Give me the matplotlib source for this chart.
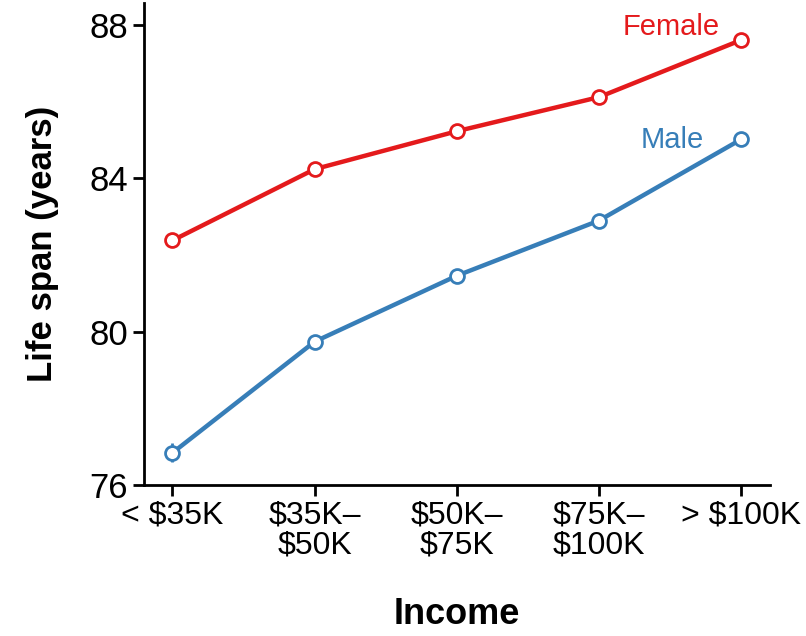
import numpy as np
import matplotlib.pyplot as plt

plt.rcParams['font.family'] = ['Liberation Sans', 'DejaVu Sans']

# data
income = ['< $35K', '$35K–\n$50K', '$50K–\n$75K', '$75K–\n$100K', '> $100K']
female = [82.38, 84.24, 85.23, 86.12, 87.61]
male = [76.84, 79.74, 81.46, 82.90, 85.02]
female_err = [0.08, 0.08, 0.08, 0.08, 0.1]
male_err = [0.25, 0.1, 0.08, 0.08, 0.1]

red = '#E41A1C'
blue = '#377EB8'

fig = plt.figure(figsize=(8.06, 6.36), dpi=100)
ax = fig.add_axes([0.1787, 0.2374, 0.7763, 0.7576])

x = np.arange(len(income))
for y, err, col in [(female, female_err, red), (male, male_err, blue)]:
    ax.errorbar(x, y, yerr=err, color=col, lw=3.2, elinewidth=2, capsize=0,
                marker='o', markersize=10, markerfacecolor='white',
                markeredgecolor=col, markeredgewidth=2, zorder=3)

ax.text(3.85, 87.95, 'Female', color=red, fontsize=21, ha='right', va='center')
ax.text(3.74, 85.0, 'Male', color=blue, fontsize=21, ha='right', va='center')

ax.set_xlim(-0.2, 4.2)
ax.set_ylim(76, 88.57)
ax.set_yticks([76, 80, 84, 88])
ax.set_xticks(x)
ax.set_xticklabels(income, fontsize=23, linespacing=1.0)
ax.tick_params(axis='y', labelsize=25, width=2, length=8)
ax.tick_params(axis='x', width=2, length=8)
for s in ['top', 'right']:
    ax.spines[s].set_visible(False)
for s in ['left', 'bottom']:
    ax.spines[s].set_linewidth(2)

ax.set_ylabel('Life span (years)', fontsize=25, fontweight='bold', labelpad=22)
ax.set_xlabel('Income', fontsize=26, fontweight='bold', labelpad=26)

fig.savefig('out.png', dpi=100)
